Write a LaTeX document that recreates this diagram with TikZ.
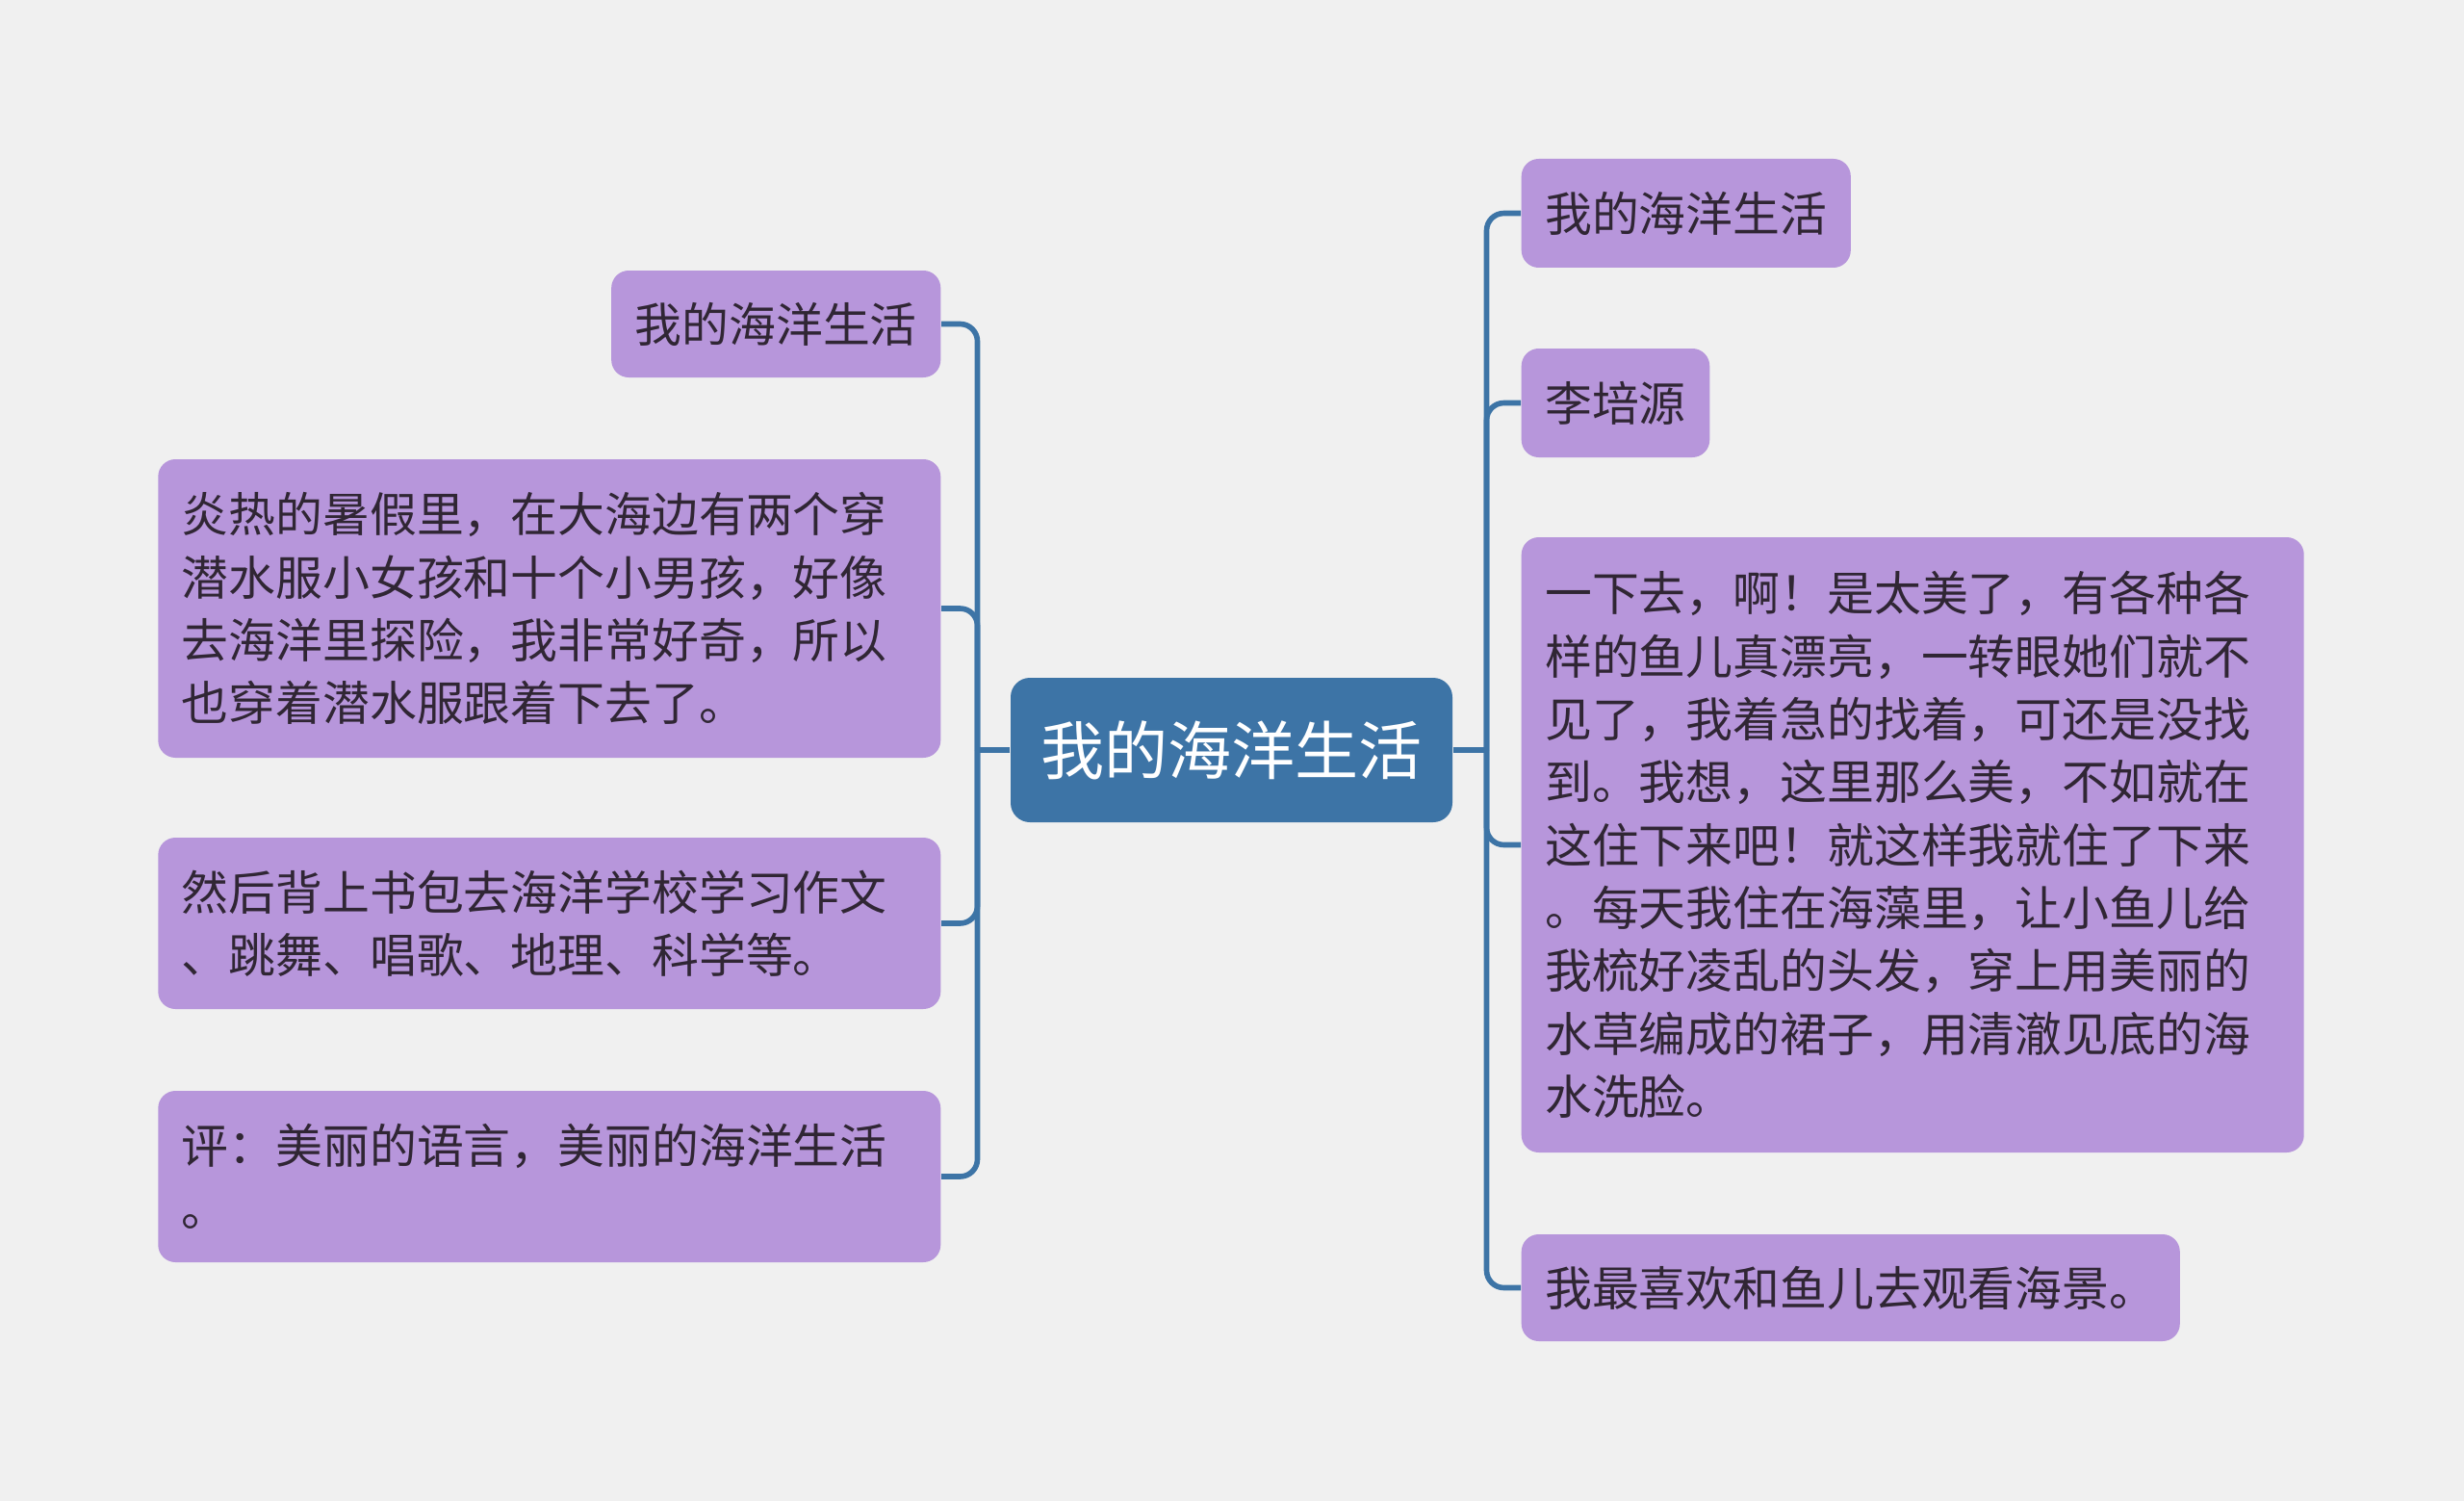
\documentclass[tikz,border=0pt]{standalone}
\usepackage{fontspec}
\setmainfont{Noto Sans CJK SC}
\definecolor{bgcol}{RGB}{240,240,240}
\definecolor{rootblue}{RGB}{61,116,166}
\definecolor{leafpurple}{RGB}{183,150,219}
\definecolor{inkdark}{RGB}{48,38,52}
\tikzset{
  root/.style={fill=rootblue, rounded corners=0.2cm, text=white, font=\fontsize{18.8pt}{24pt}\selectfont, minimum width=4.59cm, minimum height=1.5cm, inner sep=0pt},
  leaf/.style={fill=leafpurple, rounded corners=0.18cm, text=inkdark, font=\fontsize{13.9pt}{18.6pt}\selectfont, inner xsep=0.245cm, inner ysep=0pt, align=left},
  conn/.style={draw=rootblue, line width=1.6pt, rounded corners=0.18cm}
}
\begin{document}
\begin{tikzpicture}
\fill[bgcol] (0,0) rectangle (25.6,-15.59);
\useasboundingbox (0,0) rectangle (25.6,-15.59);

% Root
\node[root] (root) at (12.795,-7.79) {我的海洋生活};

% Left branch
\node[leaf, anchor=east, minimum height=1.11cm] (l1) at (9.78,-3.365) {我的海洋生活};
\node[leaf, anchor=east, text width=7.64cm, minimum height=3.10cm] (l2) at (9.78,-6.32) {炎热的暑假里，在大海边有两个穿\\潜水服小女孩和十个小男孩，好像\\去海洋里探险，我非常好奇，所以\\也穿着潜水服跟着下去了。};
\node[leaf, anchor=east, text width=7.64cm, minimum height=1.78cm] (l3) at (9.78,-9.59) {然后背上书包去海洋学校学习作文\\、跳舞、唱歌、地理、科学等。};
\node[leaf, anchor=east, text width=7.64cm, minimum height=1.78cm] (l4) at (9.78,-12.22) {评：美丽的语言，美丽的海洋生活\\。};

% Right branch
\node[leaf, anchor=west, minimum height=1.13cm] (r1) at (15.80,-2.215) {我的海洋生活};
\node[leaf, anchor=west, minimum height=1.13cm] (r2) at (15.80,-4.185) {李培源};
\node[leaf, anchor=west, text width=7.64cm, minimum height=6.39cm] (r3) at (15.80,-8.775) {一下去，啊！是太美了，有各种各\\样的鱼儿真漂亮，一转眼她们就不\\见了，我着急的找着，可还是没找\\到。我想，这里那么美，不如就在\\这住下来吧！就这样我就住了下来\\。每天我住在海藻里，让小鱼儿给\\我梳好凌乱的头发，穿上用美丽的\\水草编成的裙子，用清澈见底的海\\水洗脸。};
\node[leaf, anchor=west, minimum height=1.11cm] (r4) at (15.80,-13.375) {我最喜欢和鱼儿去观看海景。};

% Connections
\coordinate (lsp) at (10.155,-7.79);
\coordinate (rsp) at (15.445,-7.79);
\draw[conn] (root.west) -- (lsp);
\draw[conn] (root.east) -- (rsp);
\foreach \n in {l1,l2,l3,l4} \draw[conn] (lsp) |- (\n.east);
\foreach \n in {r1,r2,r3,r4} \draw[conn] (rsp) |- (\n.west);

\end{tikzpicture}
\end{document}
